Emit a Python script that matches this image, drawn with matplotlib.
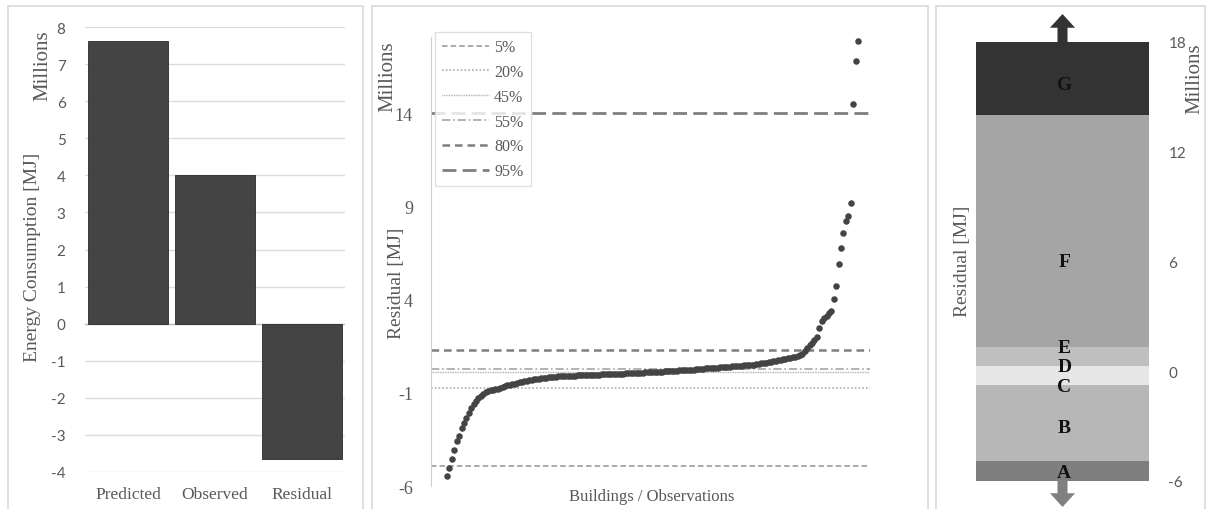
import matplotlib.pyplot as plt
from matplotlib.patches import Rectangle, FancyArrow

plt.rcParams['lines.scale_dashes'] = False
plt.rcParams['axes.unicode_minus'] = False

# ---- data ----
bar_labels = ["Predicted", "Observed", "Residual"]
bar_values = [7.63, 4.0, -3.64]   # millions MJ

# sorted residuals, millions MJ
residuals = [
    -5.46, -5.05, -4.55, -4.05, -3.6, -3.3, -2.9, -2.6, -2.35, -2.1,
    -1.8, -1.6, -1.45, -1.3, -1.18, -1.05, -0.95, -0.9, -0.87, -0.84,
    -0.8, -0.77, -0.72, -0.67, -0.63, -0.6, -0.57, -0.53, -0.5, -0.47,
    -0.43, -0.4, -0.37, -0.34, -0.32, -0.3, -0.27, -0.25, -0.23, -0.21,
    -0.2, -0.18, -0.17, -0.15, -0.14, -0.13, -0.12, -0.11, -0.1, -0.1,
    -0.09,
    -0.08, -0.075, -0.07, -0.065, -0.06, -0.055, -0.05, -0.045, -0.04, -0.035,
    -0.03, -0.025, -0.02, -0.015, -0.01, -0.005, 0.0, 0.005, 0.01, 0.015,
    0.02, 0.025, 0.03, 0.04, 0.045, 0.05, 0.06, 0.07,
    0.075, 0.08, 0.09, 0.095, 0.10, 0.11, 0.115, 0.12, 0.13, 0.14,
    0.145, 0.15, 0.16, 0.17, 0.175, 0.18, 0.19, 0.2, 0.21, 0.215,
    0.22, 0.23, 0.24, 0.25, 0.26, 0.275, 0.29,
    0.30, 0.31, 0.32, 0.33, 0.34, 0.35, 0.36, 0.37, 0.38, 0.39,
    0.40, 0.41, 0.42, 0.43, 0.44, 0.45, 0.46, 0.47, 0.48, 0.49, 0.50,
    0.52, 0.54, 0.56, 0.58, 0.6, 0.62, 0.64, 0.66, 0.69, 0.72,
    0.75, 0.77, 0.8, 0.83,
    0.86, 0.89, 0.92, 0.95, 0.99, 1.04,
    1.1, 1.25, 1.4, 1.55, 1.7, 1.85,
    2.0, 2.5, 2.85, 3.0, 3.15, 3.3, 3.4, 4.05, 4.75, 5.9,
    6.75, 7.6, 8.2, 8.5, 9.2, 14.5, 16.8, 17.9,
]

pct_labels = ["5%", "20%", "45%", "55%", "80%", "95%"]
pct_values = [-4.92, -0.73, 0.13, 0.29, 1.31, 14.0]

class_labels = ["A", "B", "C", "D", "E", "F", "G"]
class_bottom = -6
class_top = 18

# ---- styles ----
SERIF = "Liberation Serif"
SANS = "Lato"
TXT = "#595959"
pct_styles = [
    dict(color="#a6a6a6", lw=1.3, dashes=(4, 2.2)),
    dict(color="#a6a6a6", lw=1.1, dashes=(1.2, 1.5)),
    dict(color="#a6a6a6", lw=1.0, dashes=(0.6, 0.6)),
    dict(color="#a6a6a6", lw=1.2, dashes=(6, 2, 1.2, 2)),
    dict(color="#7f7f7f", lw=1.8, dashes=(5.5, 3.5)),
    dict(color="#7f7f7f", lw=2.0, dashes=(10, 4.5)),
]
class_colors = ["#7f7f7f", "#b7b7b7", "#e7e7e7", "#e7e7e7", "#bfbfbf", "#a5a5a5", "#333333"]
class_label_y = [-5.52, -3.07, -0.85, 0.25, 1.3, 6.0, 15.7]

W, H = 1209, 510
fig = plt.figure(figsize=(W / 100, H / 100), dpi=100)


def px_axes(x0, y0, x1, y1):
    return fig.add_axes([x0 / W, 1 - y1 / H, (x1 - x0) / W, (y1 - y0) / H])


def px_text(x, y, s, **kw):
    fig.text(x / W, 1 - y / H, s, **kw)


# panel frames
for x0, x1 in [(8, 363), (372, 928), (936, 1205)]:
    fig.add_artist(Rectangle((x0 / W, -0.05), (x1 - x0) / W, 1.05 - 7 / H,
                             transform=fig.transFigure, fill=False,
                             edgecolor="#dcdcdc", lw=1.3))

# ---- left: bars ----
ax1 = px_axes(85, 28, 345, 473)
ax1.bar(range(len(bar_values)), bar_values, width=0.92, color="#444444",
        edgecolor="#2a2a2a", lw=0.6, zorder=3)
ax1.set_xlim(-0.5, 2.5)
ax1.set_ylim(-4, 8)
ax1.set_yticks(range(-4, 9))
ax1.grid(axis="y", color="#dddddd", lw=1)
ax1.axhline(0, color="#bfbfbf", lw=1, zorder=2)
for s in ax1.spines.values():
    s.set_visible(False)
ax1.tick_params(length=0, pad=14)
ax1.set_xticks(range(len(bar_labels)))
ax1.set_xticklabels(bar_labels, family=SERIF, fontsize=12.5, color=TXT)
for t in ax1.get_yticklabels():
    t.set_family(SANS)
    t.set_fontsize(11)
    t.set_color(TXT)
ax1.tick_params(axis="x", pad=10)
px_text(33, 257, "Energy Consumption [MJ]", rotation=90, ha="center", va="center",
        family=SERIF, fontsize=14, color=TXT)
px_text(43, 66, "Millions", rotation=90, ha="center", va="center",
        family=SERIF, fontsize=15, color=TXT)

# ---- middle: sorted residuals ----
ax2 = px_axes(431, 38, 870, 487)
idx = list(range(len(residuals)))
ax2.scatter(idx, residuals, s=22, color="#444444", lw=0, zorder=3)
for lab, val, st in zip(pct_labels, pct_values, pct_styles):
    ax2.axhline(val, label=lab, zorder=2, **st)
n = len(residuals) - 1
step = n / (858 - 447)
ax2.set_xlim(-(447 - 431) * step, n + (870 - 858) * step)
ax2.set_ylim(-6, 18.1)
ax2.set_yticks([-6, -1, 4, 9, 14])
ax2.set_xticks([])
for k in ["top", "right", "bottom"]:
    ax2.spines[k].set_visible(False)
ax2.spines["left"].set_color("#d0d0d0")
ax2.tick_params(length=0, pad=13)
for t in ax2.get_yticklabels():
    t.set_family(SERIF)
    t.set_fontsize(13)
    t.set_color(TXT)
leg = ax2.legend(loc="upper left", bbox_to_anchor=(435 / W, 1 - 33 / H),
                 bbox_transform=fig.transFigure, frameon=True, fancybox=False,
                 borderaxespad=0, handlelength=2.9, handletextpad=0.35,
                 labelspacing=0.55, borderpad=0.45,
                 prop=dict(family=SERIF, size=11.5))
leg.get_frame().set_edgecolor("#d9d9d9")
leg.get_frame().set_linewidth(1)
for t in leg.get_texts():
    t.set_color(TXT)
px_text(397, 283, "Residual [MJ]", rotation=90, ha="center", va="center",
        family=SERIF, fontsize=14, color=TXT)
px_text(388, 77, "Millions", rotation=90, ha="center", va="center",
        family=SERIF, fontsize=15, color=TXT)
px_text(652, 497, "Buildings / Observations", ha="center", va="center",
        family=SERIF, fontsize=12, color=TXT)

# ---- right: residual classes ----
ax3 = px_axes(976, 43, 1149, 482)
edges = [class_bottom] + pct_values + [class_top]
for i, lab in enumerate(class_labels):
    ax3.bar(0.5, edges[i + 1] - edges[i], bottom=edges[i], width=1.0,
            color=class_colors[i], lw=0)
    ax3.text(0.51, class_label_y[i], lab, ha="center", va="center",
             family=SERIF, fontsize=14, fontweight="bold", color="#111111")
ax3.add_patch(FancyArrow(0.5, class_top, 0, 1.53, width=0.058, head_width=0.145,
                         head_length=0.75, length_includes_head=True,
                         color="#333333", lw=0, clip_on=False))
ax3.add_patch(FancyArrow(0.5, class_bottom, 0, -1.42, width=0.058, head_width=0.145,
                         head_length=0.75, length_includes_head=True,
                         color="#808080", lw=0, clip_on=False))
ax3.set_xlim(0, 1)
ax3.set_ylim(-6, 18)
ax3.set_yticks([-6, 0, 6, 12, 18])
ax3.set_xticks([])
ax3.yaxis.tick_right()
for s in ax3.spines.values():
    s.set_visible(False)
ax3.tick_params(length=0, pad=14)
for t in ax3.get_yticklabels():
    t.set_family(SANS)
    t.set_fontsize(11)
    t.set_color(TXT)
px_text(963, 261, "Residual [MJ]", rotation=90, ha="center", va="center",
        family=SERIF, fontsize=14, color=TXT)
px_text(1195, 79, "Millions", rotation=90, ha="center", va="center",
        family=SERIF, fontsize=15, color=TXT)

fig.savefig("out.png", dpi=100)
